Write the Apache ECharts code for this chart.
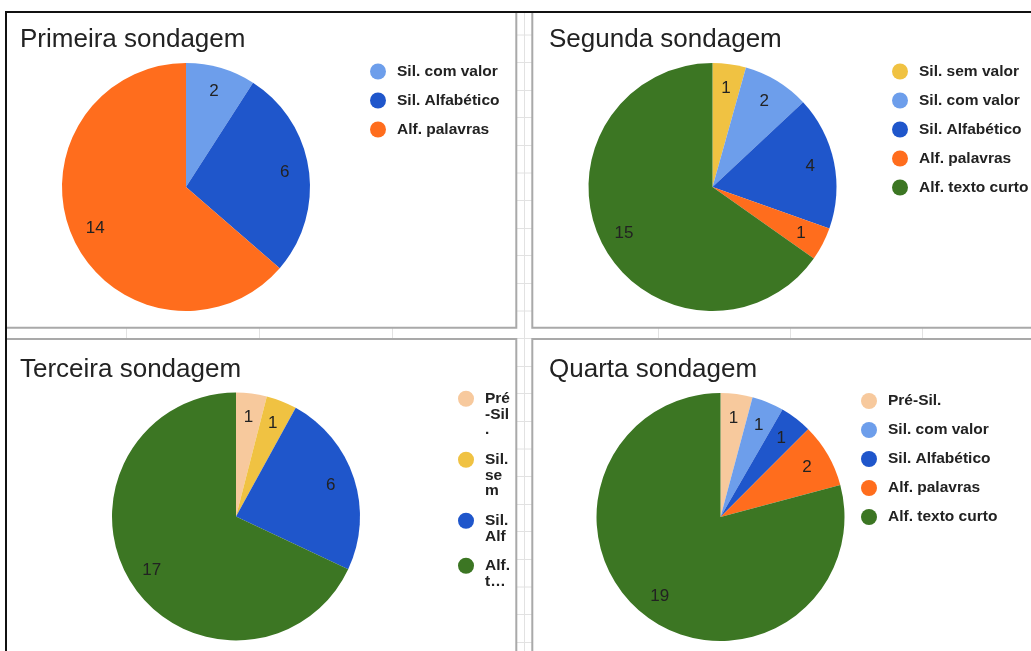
<!DOCTYPE html>
<html><head><meta charset="utf-8">
<script src="https://cdn.jsdelivr.net/npm/echarts@6/dist/echarts.min.js"></script>
<style>html,body{margin:0;padding:0;background:#fff}#c{width:1031px;height:651px}</style>
</head><body><div id="c"></div>
<script>
// ---- data ----
const titles = ['Primeira sondagem', 'Segunda sondagem', 'Terceira sondagem', 'Quarta sondagem'];
const cats1 = ['Sil. com valor', 'Sil. Alfabético', 'Alf. palavras'];
const vals1 = [2, 6, 14];
const cats2 = ['Sil. sem valor', 'Sil. com valor', 'Sil. Alfabético', 'Alf. palavras', 'Alf. texto curto'];
const vals2 = [1, 2, 4, 1, 15];
const cats3 = ['Pré-Sil.', 'Sil. sem valor', 'Sil. Alfabético', 'Alf. texto curto'];
const vals3 = [1, 1, 6, 17];
const legendText3 = ['Pré\n-Sil\n.', 'Sil.\nse\nm', 'Sil.\nAlf', 'Alf.\nt…'];
const cats4 = ['Pré-Sil.', 'Sil. com valor', 'Sil. Alfabético', 'Alf. palavras', 'Alf. texto curto'];
const vals4 = [1, 1, 1, 2, 19];

// ---- styles ----
const COLORS = {
  'Pré-Sil.': '#f7c99d',
  'Sil. sem valor': '#f0c242',
  'Sil. com valor': '#6d9eeb',
  'Sil. Alfabético': '#1f56cb',
  'Alf. palavras': '#ff6d1d',
  'Alf. texto curto': '#3c7623'
};
const FONT = '"Liberation Sans", Arial, Helvetica, sans-serif';
const R = 124;
const pies = [
  {cats: cats1, vals: vals1, center: [186, 187], title: [20, 27]},
  {cats: cats2, vals: vals2, center: [712.5, 187], title: [549, 27]},
  {cats: cats3, vals: vals3, center: [236, 516.5], title: [20, 357]},
  {cats: cats4, vals: vals4, center: [720.5, 517], title: [549, 357]}
];

const series = [];
pies.forEach((p, i) => {
  series.push({
    type: 'pie', name: titles[i], center: p.center, radius: [0, R],
    startAngle: 90, clockwise: true, silent: true, animation: false,
    emphasis: {disabled: true},
    itemStyle: {borderWidth: 0, borderRadius: 0},
    label: {show: false}, labelLine: {show: false},
    data: p.cats.map((c, j) => ({name: c, value: p.vals[j], itemStyle: {color: COLORS[c]}}))
  });
});
pies.forEach((p, i) => {
  series.push({
    type: 'pie', center: p.center, radius: [R * 0.56, R],
    startAngle: 90, clockwise: true, silent: true, animation: false, z: 3,
    avoidLabelOverlap: false, emphasis: {disabled: true},
    itemStyle: {color: 'rgba(0,0,0,0)', borderWidth: 0},
    label: {show: true, position: 'inside', formatter: '{c}', fontSize: 17, color: '#222', fontFamily: FONT},
    labelLine: {show: false},
    data: p.cats.map((c, j) => ({name: c, value: p.vals[j]}))
  });
});

const legTS = {fontSize: 15.5, fontWeight: 'bold', color: '#222', fontFamily: FONT};
const legBase = {orient: 'vertical', icon: 'circle', itemWidth: 28, itemHeight: 16, itemGap: 13, padding: 0,
  selectedMode: false, textStyle: legTS};
const LH = 15.5;
const cy3 = [399, 460, 521, 566];
const legends = [
  Object.assign({}, legBase, {data: cats1, left: 370, top: 63.5}),
  Object.assign({}, legBase, {data: cats2, left: 892, top: 63.5}),
  Object.assign({}, legBase, {data: cats4, left: 861, top: 393})
];
cats3.forEach((c, i) => {
  const n = legendText3[i].split('\n').length;
  legends.push(Object.assign({}, legBase, {
    data: [c], left: 458, top: cy3[i] - 8 - (n - 1) * LH,
    formatter: () => legendText3[i],
    textStyle: Object.assign({}, legTS, {lineHeight: LH, padding: [(n - 1) * LH, 0, 0, 0], rich: {x: {}}})
  }));
});

// ---- spreadsheet background decoration ----
const gridCols = [126, 259, 392, 524, 658, 790, 922];
const gridRows = [34.5, 62, 90, 117, 145, 172.5, 200, 228, 255, 283, 310.5, 338, 366, 393, 421, 448.5, 476, 504, 531, 559, 586.5, 614, 642];
const graphics = [];
gridCols.forEach(x => graphics.push({type: 'line', z: -10, shape: {x1: x + 0.5, y1: 13, x2: x + 0.5, y2: 651}, style: {stroke: '#e2e2e2', lineWidth: 1}}));
gridRows.forEach(y => graphics.push({type: 'line', z: -10, shape: {x1: 7, y1: y + 0.5, x2: 1031, y2: y + 0.5}, style: {stroke: '#e2e2e2', lineWidth: 1}}));
const panels = [[6, 12, 510.3, 315.7], [532.3, 12, 520, 315.7], [6, 339, 510.3, 340], [532.3, 339, 520, 340]];
panels.forEach(r => graphics.push({type: 'rect', z: -8, shape: {x: r[0], y: r[1], width: r[2], height: r[3]}, style: {fill: '#fff', stroke: '#a9a9a9', lineWidth: 2}}));
graphics.push({type: 'line', z: -6, shape: {x1: 5, y1: 12, x2: 1031, y2: 12}, style: {stroke: '#111', lineWidth: 2}});
graphics.push({type: 'line', z: -6, shape: {x1: 6, y1: 11, x2: 6, y2: 651}, style: {stroke: '#111', lineWidth: 2}});

const chart = echarts.init(document.getElementById('c'), null, {renderer: 'canvas'});
chart.setOption({
  backgroundColor: '#fff',
  animation: false,
  graphic: graphics,
  title: pies.map((p, i) => ({
    text: titles[i], left: p.title[0], top: p.title[1], padding: 0,
    textStyle: {fontSize: 26, fontWeight: 'normal', color: '#222', fontFamily: FONT}
  })),
  legend: legends,
  series: series
});
</script></body></html>
